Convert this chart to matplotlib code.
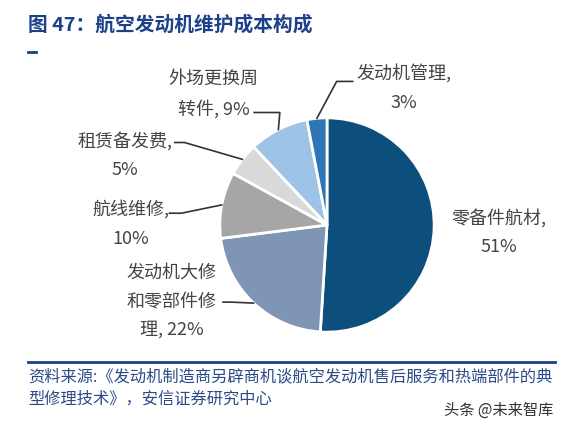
import numpy as np
import matplotlib.pyplot as plt
from matplotlib.lines import Line2D

plt.rcParams['font.family'] = ['Noto Sans CJK SC', 'DejaVu Sans']

# data
labels = ['零备件航材,\n51%', '发动机大修\n和零部件修\n理, 22%', '航线维修,\n10%',
          '租赁备发费,\n5%', '外场更换周\n转件, 9%', '发动机管理,\n3%']
shares = [51, 22, 10, 5, 9, 3]
colors = ['#0c4f7c', '#7f95b5', '#a6a6a6', '#d9d9d9', '#9dc3e6', '#2e75b6']

# label block centres and leader elbows (data units, radius = 1)
label_pos = [(1.60, -0.07), (-1.45, -0.71), (-1.83, 0.01),
             (-1.89, 0.65), (-1.06, 1.22), (0.72, 1.28)]
elbows = [None, [(-0.89, -0.72), (-0.97, -0.72)], [(-1.36, 0.11), (-1.47, 0.11)],
          [(-1.33, 0.77), (-1.42, 0.77)], [(-0.44, 1.05), (-0.68, 1.05)],
          [(0.09, 1.34), (0.24, 1.34)]]

W, H = 566, 429
fig = plt.figure(figsize=(W / 100, H / 100), dpi=100)

cx, cy, half = 327, 204, 150
ax = fig.add_axes([(cx - half) / W, (cy - half) / H, 2 * half / W, 2 * half / H])
wedges, _ = ax.pie(shares, colors=colors, startangle=90, counterclock=False,
                   wedgeprops=dict(edgecolor='white', linewidth=2))
ax.set_xlim(-1.4, 1.4)
ax.set_ylim(-1.4, 1.4)
ax.set_aspect('equal')
ax.axis('off')

txt_col = '#444444'
for w, lab, pos, elb in zip(wedges, labels, label_pos, elbows):
    ax.text(pos[0], pos[1], lab, ha='center', va='center', fontsize=13,
            color=txt_col, linespacing=1.75, clip_on=False)
    if elb is None:
        continue
    ang = np.deg2rad((w.theta1 + w.theta2) / 2)
    xs = [np.cos(ang)] + [p[0] for p in elb]
    ys = [np.sin(ang)] + [p[1] for p in elb]
    ax.plot(xs, ys, color='#333333', lw=1.2, clip_on=False)

navy = '#1c4089'
fig.text(28 / W, 1 - 25 / H, '图 47：航空发动机维护成本构成', fontsize=14.2,
         fontweight='bold', color=navy, ha='left', va='center')
fig.add_artist(Line2D([28 / W, 36 / W], [1 - 52 / H, 1 - 52 / H], color=navy, lw=2))
fig.add_artist(Line2D([28 / W, 555 / W], [1 - 362 / H, 1 - 362 / H], color=navy, lw=2))

src_col = '#2c4a86'
fig.text(28 / W, 1 - 377 / H,
         '资料来源:《发动机制造商另辟商机谈航空发动机售后服务和热端部件的典',
         fontsize=11.7, color=src_col, ha='left', va='center', style='italic')
fig.text(28 / W, 1 - 399 / H, '型修理技术》，安信证券研究中心',
         fontsize=11.7, color=src_col, ha='left', va='center', style='italic')
fig.text(553 / W, 1 - 410 / H, '头条 @未来智库', fontsize=11, color='#333333',
         ha='right', va='center')

fig.savefig('out.png', dpi=100)
